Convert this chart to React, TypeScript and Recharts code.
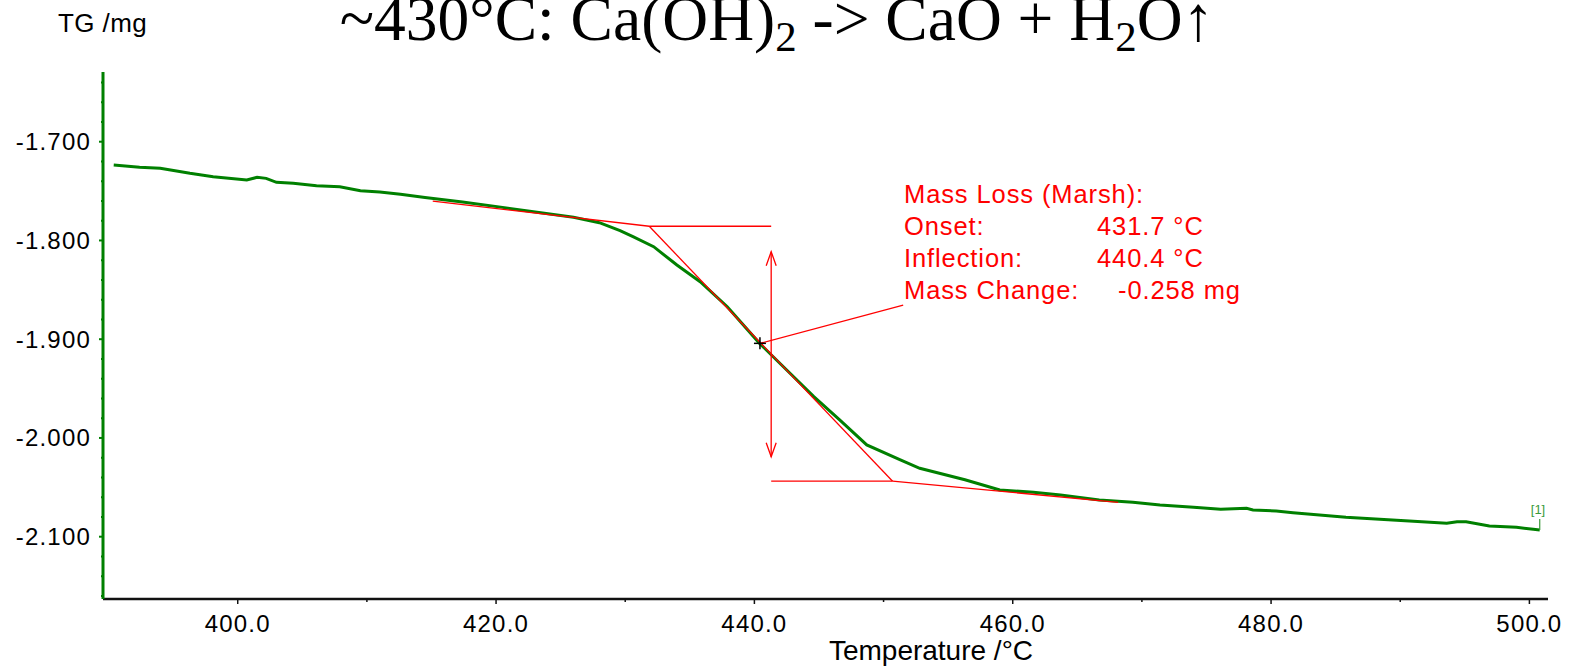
import React from "react"
import {
  LineChart,
  Line,
  XAxis,
  YAxis,
  ReferenceLine,
  ReferenceDot,
} from "recharts"

// TG curve, temperature (°C) vs mass (mg)
const temps = [
  390.4, 392.4, 394.0, 396.3, 398.1, 400.7, 401.5, 402.2, 403.0, 404.3, 406.1,
  407.9, 409.5, 411.0, 412.6, 414.5, 417.4, 420.5, 423.6, 426.0, 428.0, 429.6,
  430.6, 432.2, 434.0, 435.8, 437.9, 440.4, 442.5, 444.6, 446.6, 448.7, 451.3,
  452.8, 456.3, 459.0, 461.6, 463.7, 466.7, 469.3, 471.4, 474.0, 476.1, 478.1,
  478.6, 480.4, 481.7, 485.8, 490.7, 493.6, 494.4, 495.1, 496.9, 499.0, 500.3,
  500.8,
]
const masses = [
  -1.7236, -1.7259, -1.7269, -1.732, -1.7354, -1.7388, -1.7361, -1.7371,
  -1.7411, -1.7421, -1.7446, -1.7456, -1.7496, -1.7509, -1.7533, -1.7565,
  -1.761, -1.7665, -1.7722, -1.7765, -1.782, -1.7901, -1.7962, -1.8063,
  -1.8249, -1.8418, -1.8671, -1.9042, -1.9312, -1.9582, -1.9818, -2.0071,
  -2.0223, -2.0307, -2.0423, -2.0527, -2.0551, -2.0578, -2.0628, -2.0652,
  -2.0679, -2.0703, -2.0723, -2.0713, -2.073, -2.074, -2.0757, -2.0804,
  -2.0841, -2.0864, -2.0848, -2.0848, -2.0892, -2.0905, -2.0925, -2.0932,
]

const xTicks = [400, 410, 420, 430, 440, 450, 460, 470, 480, 490, 500]
const yTicks = [
  -2.16, -2.14, -2.12, -2.1, -2.08, -2.06, -2.04, -2.02, -2.0, -1.98, -1.96,
  -1.94, -1.92, -1.9, -1.88, -1.86, -1.84, -1.82, -1.8, -1.78, -1.76, -1.74,
  -1.72, -1.7, -1.68, -1.66, -1.64,
]

// Marsh evaluation
const onsetPoint = { x: 431.86, y: -1.7856 }
const endPoint = { x: 450.7, y: -2.0438 }
const inflectionPoint = { x: 440.43, y: -1.9042 }
const upperTangentStart = { x: 415.1, y: -1.7601 }
const lowerTangentEnd = { x: 468.16, y: -2.0652 }
const stepX = 441.3
const arrowTop = -1.8114
const arrowBottom = -2.019
const leaderEnd = { x: 451.52, y: -1.8654 }
const curveEnd = { x: 500.8, y: -2.0932 }
const curveEndMarkTop = -2.082

const resultLabels = ["Onset:", "Inflection:", "Mass Change:"]
const resultValues = ["431.7 °C", "440.4 °C", "-0.258 mg"]

const data = temps.map((t, i) => ({ t, mg: masses[i] }))

const GREEN = "#008000"
const RED = "#ff0000"
const FONT = "'Liberation Sans', Arial, sans-serif"

function YTick(props: any) {
  const { x, y, payload } = props
  const v = payload.value
  const major = Math.abs(v * 10 - Math.round(v * 10)) < 1e-6
  if (!major) {
    return <line x1={x - 2} y1={y} x2={x} y2={y} stroke={GREEN} strokeWidth={2} />
  }
  return (
    <g>
      <line x1={x - 4} y1={y} x2={x} y2={y} stroke={GREEN} strokeWidth={2} />
      <text
        x={x - 12}
        y={y + 8.5}
        textAnchor="end"
        fontFamily={FONT}
        fontSize={24}
        letterSpacing={1.2}
        fill="#000"
      >
        {v.toFixed(3)}
      </text>
    </g>
  )
}

function XTick(props: any) {
  const { x, y, payload } = props
  const v = payload.value
  const major = v % 20 === 0
  if (!major) {
    return <line x1={x} y1={y} x2={x} y2={y + 3} stroke="#111" strokeWidth={1.5} />
  }
  return (
    <g>
      <line x1={x} y1={y} x2={x} y2={y + 5} stroke="#111" strokeWidth={1.5} />
      <text
        x={x}
        y={y + 32.5}
        textAnchor="middle"
        fontFamily={FONT}
        fontSize={24}
        letterSpacing={1.2}
        fill="#000"
      >
        {v.toFixed(1)}
      </text>
    </g>
  )
}

function Arrow(props: any) {
  const { x1, y1, x2, y2 } = props
  const top = Math.min(y1, y2)
  const bottom = Math.max(y1, y2)
  return (
    <g stroke={RED} strokeWidth={1.3} fill="none">
      <line x1={x1} y1={top} x2={x2} y2={bottom} />
      <polyline points={`${x1 - 5},${top + 14} ${x1},${top} ${x1 + 5},${top + 14}`} />
      <polyline points={`${x1 - 5},${bottom - 14} ${x1},${bottom} ${x1 + 5},${bottom - 14}`} />
    </g>
  )
}

function Cross(props: any) {
  const { cx, cy } = props
  return (
    <g stroke="#000" strokeWidth={1.5}>
      <line x1={cx - 6} y1={cy} x2={cx + 6} y2={cy} />
      <line x1={cx} y1={cy - 6} x2={cx} y2={cy + 6} />
    </g>
  )
}

export default function App() {
  return (
    <div style={{ position: "relative", width: 1577, height: 666, background: "#fff" }}>
      <style>{"body{margin:0}"}</style>
      <LineChart
        width={1577}
        height={666}
        data={data}
        margin={{ top: 72, right: 29, bottom: 0, left: 0 }}
      >
        <XAxis
          dataKey="t"
          type="number"
          domain={[389.57, 501.44]}
          ticks={xTicks}
          tick={<XTick />}
          tickLine={false}
          tickSize={0}
          tickMargin={0}
          height={67}
          axisLine={{ stroke: "#111", strokeWidth: 2.5 }}
          allowDataOverflow
        />
        <YAxis
          type="number"
          domain={[-2.1631, -1.6294]}
          ticks={yTicks}
          tick={<YTick />}
          tickLine={false}
          tickSize={0}
          tickMargin={0}
          width={103}
          axisLine={{ stroke: GREEN, strokeWidth: 3 }}
          allowDataOverflow
          interval={0}
        />
        <Line
          type="linear"
          dataKey="mg"
          stroke={GREEN}
          strokeWidth={3}
          dot={false}
          isAnimationActive={false}
        />
        <ReferenceLine
          segment={[upperTangentStart, onsetPoint]}
          stroke={RED}
          strokeWidth={1.3}
          ifOverflow="visible"
        />
        <ReferenceLine
          segment={[onsetPoint, endPoint]}
          stroke={RED}
          strokeWidth={1.3}
          ifOverflow="visible"
        />
        <ReferenceLine
          segment={[endPoint, lowerTangentEnd]}
          stroke={RED}
          strokeWidth={1.3}
          ifOverflow="visible"
        />
        <ReferenceLine
          segment={[onsetPoint, { x: stepX, y: onsetPoint.y }]}
          stroke={RED}
          strokeWidth={1.3}
          ifOverflow="visible"
        />
        <ReferenceLine
          segment={[{ x: stepX, y: endPoint.y }, endPoint]}
          stroke={RED}
          strokeWidth={1.3}
          ifOverflow="visible"
        />
        <ReferenceLine
          segment={[{ x: stepX, y: arrowTop }, { x: stepX, y: arrowBottom }]}
          shape={Arrow}
          ifOverflow="visible"
        />
        <ReferenceLine
          segment={[inflectionPoint, leaderEnd]}
          stroke={RED}
          strokeWidth={1.3}
          ifOverflow="visible"
        />
        <ReferenceLine
          segment={[curveEnd, { x: curveEnd.x, y: curveEndMarkTop }]}
          stroke="#3a9a3a"
          strokeWidth={1.2}
          ifOverflow="visible"
        />
        <ReferenceDot
          x={inflectionPoint.x}
          y={inflectionPoint.y}
          shape={Cross}
          ifOverflow="visible"
        />
      </LineChart>

      <svg
        width={1577}
        height={666}
        style={{ position: "absolute", left: 0, top: 0, pointerEvents: "none" }}
      >
        <text
          x={777}
          y={40}
          textAnchor="middle"
          fontFamily="'Liberation Serif', 'Times New Roman', serif"
          fontSize={63.5}
          fill="#000"
        >
          ~430°C: Ca(OH)
          <tspan fontSize={43} dy={11}>2</tspan>
          <tspan dy={-11}> -&gt; CaO + H</tspan>
          <tspan fontSize={43} dy={11}>2</tspan>
          <tspan dy={-11}>O↑</tspan>
        </text>
        <text x={58} y={32} fontFamily={FONT} fontSize={26} letterSpacing={0.4} fill="#000">
          TG /mg
        </text>
        <text
          x={931}
          y={660}
          textAnchor="middle"
          fontFamily={FONT}
          fontSize={28}
          fill="#000"
        >
          Temperature /°C
        </text>
        <g fontFamily={FONT} fontSize={25.5} letterSpacing={0.9} fill={RED}>
          <text x={904} y={203}>Mass Loss (Marsh):</text>
          {resultLabels.map((l, i) => (
            <text key={l} x={904} y={235 + i * 32}>
              {l}
            </text>
          ))}
          {resultValues.map((v, i) => (
            <text key={v} x={i === 2 ? 1118 : 1097} y={235 + i * 32}>
              {v}
            </text>
          ))}
        </g>
        <text
          x={1538}
          y={514}
          textAnchor="middle"
          fontFamily={FONT}
          fontSize={13}
          fill="#3a9a3a"
        >
          [1]
        </text>
      </svg>
    </div>
  )
}
